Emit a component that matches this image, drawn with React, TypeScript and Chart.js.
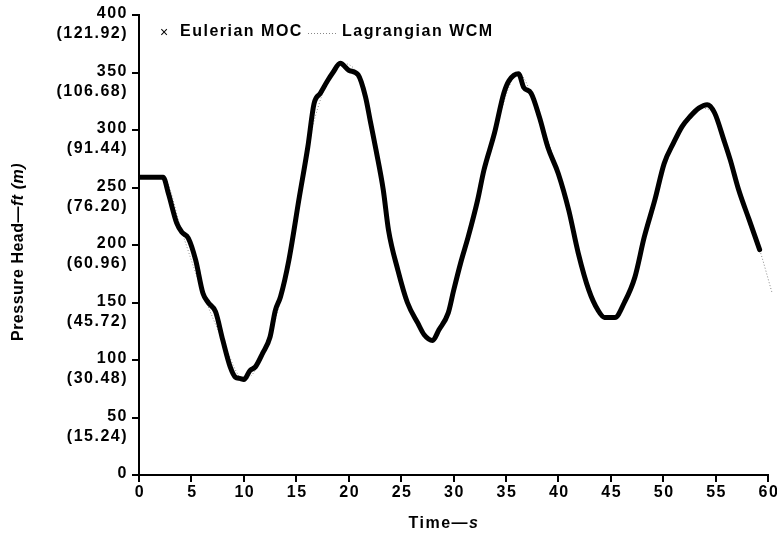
import React, { useEffect, useRef } from "react";
import { Chart, registerables } from "chart.js";

Chart.register(...registerables);

// ---- data (time in s, pressure head in ft) ----
const eulerTime = [0, 2.3, 2.8, 3.6, 4.1, 4.7, 5.4, 6.1, 6.6, 7.3, 8.0, 8.7, 9.2, 9.6, 10.0, 10.6, 11.1, 11.8, 12.5, 13.0, 13.5, 14.3, 15.3, 16.1, 16.7, 17.3, 18.0, 18.5, 19.2, 20.0, 20.9, 21.6, 22.1, 22.6, 23.3, 23.8, 24.7, 25.6, 26.6, 27.2, 28.0, 28.6, 29.5, 30.0, 30.7, 31.4, 32.3, 32.9, 33.9, 34.8, 35.3, 36.2, 36.7, 37.4, 38.2, 39.0, 40.0, 41.0, 41.9, 42.9, 43.8, 44.4, 45.4, 46.3, 47.3, 48.2, 49.2, 50.1, 51.0, 51.8, 52.5, 53.4, 54.2, 54.9, 55.8, 56.4, 57.2, 58.2, 59.2];
const eulerHead = [259, 259, 245, 219, 211, 206, 187, 158, 150, 142, 117, 94, 85, 84, 83, 91, 94, 106, 120, 143, 155, 187, 242, 285, 323, 332, 343, 350, 358, 352, 348, 329, 306, 283, 248, 213, 178, 150, 132, 122, 117, 126, 141, 160, 185, 207, 239, 265, 297, 332, 343, 349, 337, 332, 311, 285, 262, 230, 193, 161, 143, 137, 137, 150, 172, 207, 239, 271, 289, 303, 311, 319, 322, 315, 291, 274, 248, 222, 196];

const lagTime = [0, 2.3, 4.1, 6.1, 8.0, 10.0, 12.5, 14.3, 16.1, 18.0, 19.2, 20.9, 22.6, 24.7, 26.6, 28.0, 30.0, 31.4, 33.9, 36.2, 38.2, 40.0, 41.9, 43.8, 45.4, 47.3, 49.2, 51.0, 53.4, 54.9, 56.4, 58.2, 59.2, 60.4];
const lagHead = [259, 259, 211, 158, 117, 83, 120, 187, 285, 343, 358, 348, 283, 178, 132, 117, 160, 207, 297, 349, 311, 262, 193, 143, 137, 172, 239, 289, 319, 315, 274, 222, 196, 158];

const yTickFt = [0, 50, 100, 150, 200, 250, 300, 350, 400];
const yTickM = ["", "(15.24)", "(30.48)", "(45.72)", "(60.96)", "(76.20)", "(91.44)", "(106.68)", "(121.92)"];
const xTicks = [0, 5, 10, 15, 20, 25, 30, 35, 40, 45, 50, 55, 60];

const seriesNames = ["Eulerian MOC", "Lagrangian WCM"];

const FAMILY = "'Liberation Sans', Arial, Helvetica, sans-serif";
const FS = 16;

const textPlugin = {
  id: "textPlugin",
  afterDraw(chart: any) {
    const ctx = chart.ctx as CanvasRenderingContext2D;
    const xs = chart.scales.x;
    const ys = chart.scales.y;
    const area = chart.chartArea;
    ctx.save();
    ctx.fillStyle = "#000";
    (ctx as any).letterSpacing = "1.5px";
    ctx.font = `bold ${FS}px ${FAMILY}`;

    // y tick labels
    ctx.textAlign = "right";
    ctx.textBaseline = "middle";
    const lx = area.left - 11;
    yTickFt.forEach((v, i) => {
      const py = ys.getPixelForValue(v);
      ctx.fillText(String(v), lx, py - 1);
      if (yTickM[i]) ctx.fillText(yTickM[i], lx, py + 19);
    });

    // x tick labels
    ctx.textAlign = "center";
    ctx.textBaseline = "middle";
    xTicks.forEach((v) => {
      const px = xs.getPixelForValue(v);
      ctx.fillText(String(v), px + 1, area.bottom + 18);
    });

    // mixed style text helper
    const drawRuns = (runs: [string, boolean][], x: number, y: number) => {
      let total = 0;
      const widths = runs.map(([t, it]) => {
        ctx.font = `${it ? "italic " : ""}bold ${FS}px ${FAMILY}`;
        const w = ctx.measureText(t).width;
        total += w;
        return w;
      });
      let cx = x - total / 2;
      ctx.textAlign = "left";
      runs.forEach(([t, it], i) => {
        ctx.font = `${it ? "italic " : ""}bold ${FS}px ${FAMILY}`;
        ctx.fillText(t, cx, y);
        cx += widths[i];
      });
    };

    // x title
    (ctx as any).letterSpacing = "1.5px";
    drawRuns([["Time\u2014", false], ["s", true]], 444, 524);

    // y title
    (ctx as any).letterSpacing = "0.5px";
    ctx.save();
    ctx.translate(19, 252);
    ctx.rotate(-Math.PI / 2);
    drawRuns([["Pressure Head\u2014", false], ["ft (m)", true]], 0, 0);
    ctx.restore();

    // legend
    (ctx as any).letterSpacing = "1.5px";
    ctx.textAlign = "left";
    ctx.textBaseline = "middle";
    ctx.font = `14px ${FAMILY}`;
    ctx.fillText("\u00d7", 160, 33);
    ctx.font = `bold ${FS}px ${FAMILY}`;
    ctx.fillText(seriesNames[0], 180, 32);
    ctx.save();
    ctx.strokeStyle = "#888";
    ctx.lineWidth = 1;
    ctx.setLineDash([1, 2]);
    ctx.beginPath();
    ctx.moveTo(308, 33.5);
    ctx.lineTo(336, 33.5);
    ctx.stroke();
    ctx.restore();
    ctx.fillText(seriesNames[1], 342, 32);
    ctx.restore();
  },
};

export default function App() {
  const ref = useRef<HTMLCanvasElement | null>(null);
  useEffect(() => {
    if (!ref.current) return;
    const chart = new Chart(ref.current, {
      type: "line",
      data: {
        datasets: [
          {
            label: seriesNames[0],
            data: eulerTime.map((t, i) => ({ x: t, y: eulerHead[i] })),
            borderColor: "#000",
            borderWidth: 5,
            pointRadius: 0,
            cubicInterpolationMode: "monotone",
            borderJoinStyle: "round",
            borderCapStyle: "round",
          },
          {
            label: seriesNames[1],
            data: lagTime.map((t, i) => ({ x: t, y: lagHead[i] })),
            borderColor: "#8a8a8a",
            borderWidth: 1,
            borderDash: [1, 2],
            pointRadius: 0,
            cubicInterpolationMode: "monotone",
            clip: false as any,
          },
        ],
      },
      options: {
        responsive: false,
        animation: false,
        layout: { padding: { top: 15, right: 9, left: 0, bottom: 0 } },
        plugins: { legend: { display: false }, tooltip: { enabled: false } },
        scales: {
          x: {
            type: "linear",
            min: 0,
            max: 60,
            ticks: { stepSize: 5, display: false },
            grid: { drawOnChartArea: false, drawTicks: true, tickLength: 7, color: "#000", lineWidth: 2 },
            border: { display: true, color: "#000", width: 2 },
            afterFit: (s: any) => {
              s.height = 62;
            },
          },
          y: {
            type: "linear",
            min: 0,
            max: 400,
            ticks: { stepSize: 50, display: false },
            grid: { drawOnChartArea: false, drawTicks: true, tickLength: 7, color: "#000", lineWidth: 2 },
            border: { display: true, color: "#000", width: 2 },
            afterFit: (s: any) => {
              s.width = 139;
            },
          },
        },
      },
      plugins: [textPlugin],
    });
    return () => chart.destroy();
  }, []);
  return (
    <div style={{ position: "absolute", left: 0, top: 0, width: 777, height: 537, background: "#fff" }}>
      <canvas ref={ref} width={777} height={537} />
    </div>
  );
}
